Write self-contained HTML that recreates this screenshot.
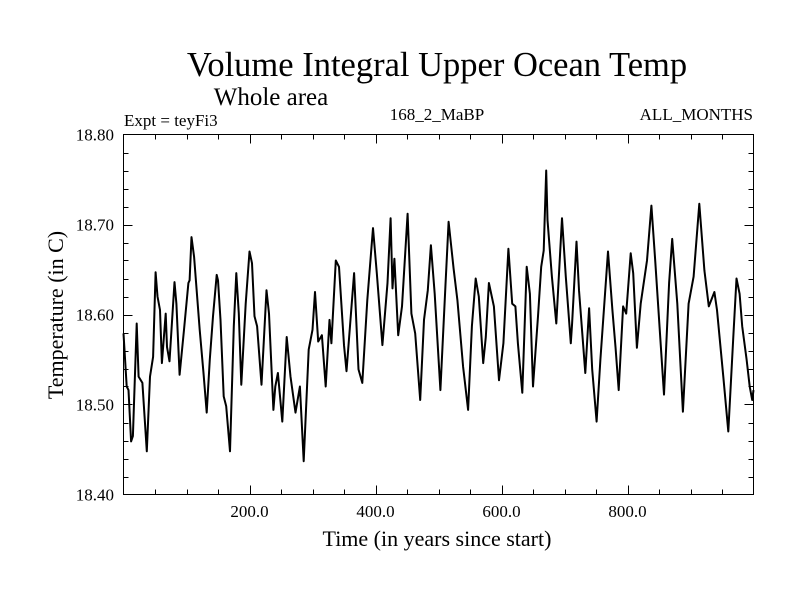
<!DOCTYPE html>
<html><head><meta charset="utf-8"><style>
body{margin:0;background:#fff}
svg{display:block;font-family:"Liberation Serif",serif}
</style></head><body>
<svg id="c" width="800" height="600">
<text x="437" y="76" font-size="34.5" text-anchor="middle">Volume Integral Upper Ocean Temp</text>
<text x="271" y="105" font-size="25" text-anchor="middle">Whole area</text>
<text x="124" y="126" font-size="17">Expt = teyFi3</text>
<text x="437" y="120" font-size="17" text-anchor="middle">168_2_MaBP</text>
<text x="753" y="120" font-size="17" text-anchor="end">ALL_MONTHS</text>
<text x="437" y="546" font-size="22" text-anchor="middle">Time (in years since start)</text>
<text transform="translate(63,315) rotate(-90)" font-size="22" text-anchor="middle">Temperature (in C)</text>
<g id="axes"></g>
<path id="line" fill="none" stroke="#000" stroke-width="2" stroke-linejoin="round"></path>
<rect x="123.5" y="134.5" width="630" height="360" fill="none" stroke="#000" stroke-width="1"/>
</svg>
<script>
const years=[0,5,8,12,15,21,24,30,37,42,47,51,54,58,61,67,69,73,81,84,89,96,103,105,108,112,121,127,132,137,142,148,150,154,159,163,169,175,179,183,187,194,200,204,208,212,219,227,231,238,241,245,252,259,265,273,280,286,294,300,304,309,315,321,327,330,337,342,350,354,366,373,379,387,396,402,411,419,424,427,430,436,442,451,457,463,471,477,483,488,494,503,511,516,524,530,539,547,553,559,564,571,575,580,588,596,603,611,617,622,626,633,640,645,650,658,663,667,671,673,680,687,696,702,710,712,719,723,733,739,744,751,757,769,776,781,786,793,798,805,809,815,821,831,838,844,858,866,871,879,888,897,905,914,922,929,938,942,952,960,968,973,978,982,989,994,998,1000];
const temps=[18.579,18.520,18.516,18.459,18.465,18.590,18.531,18.524,18.448,18.531,18.553,18.647,18.620,18.605,18.546,18.601,18.564,18.548,18.636,18.612,18.533,18.583,18.635,18.638,18.686,18.664,18.583,18.535,18.491,18.550,18.598,18.644,18.638,18.594,18.509,18.498,18.448,18.587,18.646,18.601,18.522,18.612,18.670,18.657,18.598,18.587,18.522,18.627,18.601,18.494,18.520,18.535,18.481,18.575,18.531,18.491,18.520,18.437,18.561,18.583,18.625,18.570,18.577,18.520,18.594,18.568,18.660,18.653,18.566,18.537,18.646,18.539,18.524,18.616,18.696,18.646,18.566,18.635,18.707,18.629,18.662,18.577,18.609,18.712,18.601,18.579,18.505,18.594,18.627,18.677,18.623,18.516,18.631,18.703,18.651,18.616,18.542,18.494,18.587,18.640,18.620,18.546,18.575,18.635,18.609,18.527,18.568,18.673,18.612,18.609,18.568,18.513,18.653,18.623,18.520,18.598,18.653,18.671,18.760,18.705,18.642,18.590,18.707,18.642,18.568,18.590,18.681,18.627,18.535,18.607,18.539,18.481,18.550,18.670,18.605,18.564,18.516,18.609,18.601,18.668,18.646,18.563,18.612,18.660,18.721,18.660,18.511,18.635,18.684,18.612,18.492,18.612,18.642,18.723,18.649,18.609,18.625,18.605,18.531,18.470,18.575,18.640,18.623,18.587,18.550,18.520,18.505,18.516];
const xTickLabels=["200.0","400.0","600.0","800.0"];
const yTickLabels=["18.40","18.50","18.60","18.70","18.80"];

const X0=123.5,X1=753.5,Y0=494.5,Y1=134.5,XMIN=0,XMAX=1000,YMIN=18.4,YMAX=18.8;
const sx=v=>X0+(v-XMIN)/(XMAX-XMIN)*(X1-X0);
const sy=v=>Y0-(v-YMIN)/(YMAX-YMIN)*(Y0-Y1);
const NS="http://www.w3.org/2000/svg";
const axes=document.getElementById('axes');
function ln(x1,y1,x2,y2,name){const l=document.createElementNS(NS,'line');
l.setAttribute('x1',x1);l.setAttribute('y1',y1);l.setAttribute('x2',x2);l.setAttribute('y2',y2);
l.setAttribute('stroke','#000');l.setAttribute('stroke-width','1');


axes.appendChild(l);}
for(let v=50;v<1000;v+=50){const x=Math.round(sx(v))+0.5;const L=(v%200===0)?9:5;
ln(x,Y0,x,Y0-L,'x-tick');ln(x,Y1,x,Y1+L,'x-tick-top');}
for(let i=1;i<20;i++){const v=YMIN+i*0.02;const y=Math.round(sy(v))+0.5;const L=(i%5===0)?9:5;
ln(X0,y,X0+L,y,'y-tick');ln(X1,y,X1-L,y,'y-tick-right');}
xTickLabels.forEach(s=>{const t=document.createElementNS(NS,'text');
t.setAttribute('x',sx(parseFloat(s)));t.setAttribute('y',517);t.setAttribute('font-size','17');t.setAttribute('text-anchor','middle');


t.textContent=s;axes.appendChild(t);});
yTickLabels.forEach(s=>{const t=document.createElementNS(NS,'text');
t.setAttribute('x',114);t.setAttribute('y',sy(parseFloat(s))+6);t.setAttribute('font-size','17');t.setAttribute('text-anchor','end');


t.textContent=s;axes.appendChild(t);});
document.getElementById('line').setAttribute('d',years.map((y,i)=>(i?'L':'M')+sx(y).toFixed(1)+' '+sy(temps[i]).toFixed(1)).join(''));
</script>
</body></html>
